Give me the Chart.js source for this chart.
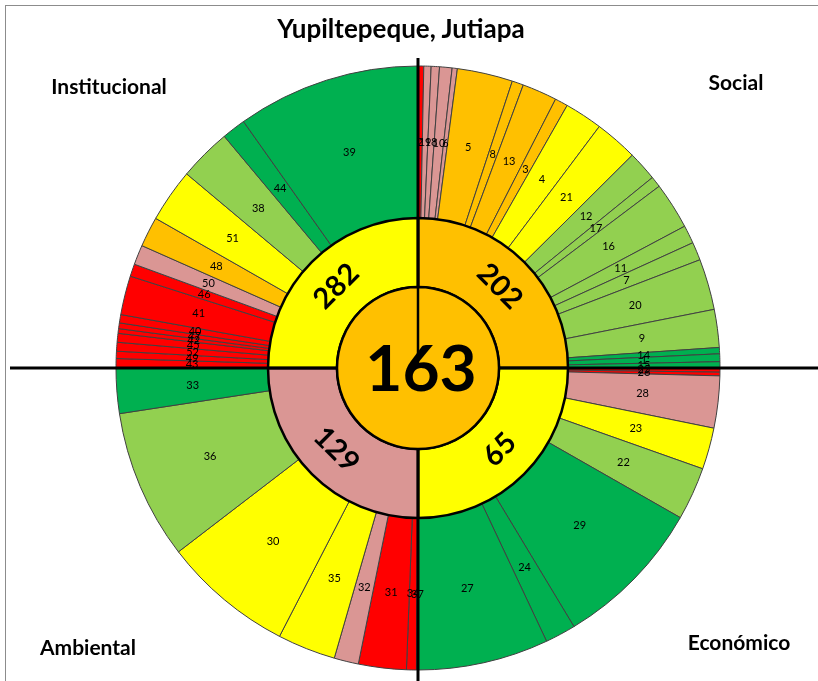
<!DOCTYPE html>
<html>
<head>
<meta charset="utf-8">
<script src="https://cdn.jsdelivr.net/npm/chart.js@4.4.0/dist/chart.umd.min.js"></script>
<style>
html,body{margin:0;padding:0;background:#fff;}
#wrap{position:relative;width:818px;height:681px;overflow:hidden;background:#fff;}
#frame{position:absolute;left:5px;top:5px;width:900px;height:800px;border-left:1px solid #8c8c8c;border-top:1px solid #8c8c8c;}
#c{position:absolute;left:0;top:0;}
.lbl{position:absolute;font-family:Lato,"Open Sans",sans-serif;font-weight:bold;color:#000;white-space:nowrap;transform:translate(-50%,-50%);}
</style>
</head>
<body>
<div id="wrap">
  <div id="frame"></div>
  <canvas id="c" width="818" height="681"></canvas>
  <div class="lbl" style="left:401px;top:28px;font-size:26px;">Yupiltepeque, Jutiapa</div>
  <div class="lbl" style="left:109px;top:85px;font-size:21px;">Institucional</div>
  <div class="lbl" style="left:736px;top:81px;font-size:21px;">Social</div>
  <div class="lbl" style="left:88px;top:646px;font-size:21px;">Ambiental</div>
  <div class="lbl" style="left:739px;top:641px;font-size:21px;">Económico</div>
</div>
<script>
// ---- DATA ----
// Outer ring: item numbers, angular share (degrees) and status class, clockwise from top
const itemLabels = ['2','19','18','10','6','5','8','13','3','4','21','12','17','16','11','7','20','9','14','1','15',
  '25','26','28','23','22','29','24','27',
  '37','34','31','32','35','30','36','33',
  '43','49','52','45','42','47','40','41','46','50','48','51','38','44','39'];
const itemShares = [1.1,1.4,1.6,2.4,1.0,10.7,2.2,6.7,2.5,7.3,8.3,5.7,2.1,9.0,3.5,3.5,9.8,7.3,1.2,1.5,1.2,
  0.8,0.7,10.0,8.0,10.2,29.2,5.9,25.2,
  0.3,1.9,9.2,4.7,11.2,25.2,28.8,8.7,
  1.8,1.4,1.7,1.7,0.9,1.1,1.6,7.5,2.4,3.8,5.8,10.3,10.1,4.6,35.3];
const itemStatus = ['R','P','P','P','P','O','O','O','O','Y','Y','LG','LG','LG','LG','LG','LG','LG','DG','DG','DG',
  'R','R','P','Y','LG','DG','DG','DG',
  'R','R','R','P','Y','Y','LG','DG',
  'R','R','R','R','R','R','R','R','R','P','O','Y','LG','DG','DG'];
// Middle ring: dimensions
const dimNames = ['Social','Económico','Ambiental','Institucional'];
const dimValues = [202, 65, 129, 282];
const dimShares = [90, 90, 90, 90];
const dimStatus = ['O','Y','P','Y'];
// Centre
const totalValue = [163];
const totalStatus = ['O'];

// ---- STYLE ----
const palette = {R:'#FF0000', P:'#DA9694', O:'#FFC000', Y:'#FFFF00', LG:'#92D050', DG:'#00B050'};
const FONT = 'Lato, "Open Sans", sans-serif';

const crossPlugin = {
  id: 'cross',
  beforeDatasetDraw(chart, args) {
    if (args.index !== 2) return;
    const arc = chart.getDatasetMeta(2).data[0];
    const cx = arc.x, cy = arc.y;
    const ctx = chart.ctx;
    ctx.save();
    ctx.strokeStyle = '#000';
    ctx.lineWidth = 3;
    ctx.beginPath();
    ctx.moveTo(10, cy); ctx.lineTo(818, cy);
    ctx.moveTo(cx, 58); ctx.lineTo(cx, 681);
    ctx.stroke();
    ctx.restore();
  }
};

const labelPlugin = {
  id: 'labels',
  afterDatasetsDraw(chart) {
    const ctx = chart.ctx;
    ctx.save();
    ctx.fillStyle = '#000';
    ctx.textAlign = 'center';
    ctx.textBaseline = 'middle';
    // outer item labels
    ctx.font = '11px ' + FONT;
    chart.getDatasetMeta(0).data.forEach((arc, i) => {
      const p = arc.getCenterPoint();
      ctx.fillText(itemLabels[i], p.x, p.y);
    });
    // middle ring values, rotated along the ring
    ctx.font = 'bold 29px ' + FONT;
    chart.getDatasetMeta(1).data.forEach((arc, i) => {
      const p = arc.getCenterPoint();
      let rot = (arc.startAngle + arc.endAngle) / 2 + Math.PI / 2;
      while (rot > Math.PI / 2) rot -= Math.PI;
      while (rot <= -Math.PI / 2) rot += Math.PI;
      ctx.save();
      ctx.translate(p.x, p.y);
      ctx.rotate(rot);
      ctx.fillText(String(dimValues[i]), 0, 0);
      ctx.restore();
    });
    // centre value
    const c = chart.getDatasetMeta(2).data[0];
    ctx.font = 'bold 64px ' + FONT;
    ctx.fillText(String(totalValue[0]), c.x + 3, c.y + 2);
    ctx.restore();
  }
};

new Chart(document.getElementById('c'), {
  type: 'doughnut',
  data: {
    labels: itemLabels,
    datasets: [
      {
        label: 'Items',
        data: itemShares,
        backgroundColor: itemStatus.map(s => palette[s]),
        borderColor: '#404040',
        borderWidth: 1,
        weight: 152,
        order: 2
      },
      {
        label: 'Dimensiones',
        data: dimShares,
        backgroundColor: dimStatus.map(s => palette[s]),
        borderColor: '#000',
        borderWidth: 2.5,
        weight: 69,
        order: 1
      },
      {
        label: 'Total',
        data: [360],
        backgroundColor: totalStatus.map(s => palette[s]),
        borderColor: '#000',
        borderWidth: 2.5,
        weight: 81,
        order: 0
      }
    ]
  },
  options: {
    responsive: false,
    devicePixelRatio: 1,
    animation: false,
    events: [],
    cutout: 0,
    radius: 302,
    layout: { padding: { left: 18, right: 0, top: 55, bottom: 0 } },
    plugins: { legend: { display: false }, tooltip: { enabled: false } }
  },
  plugins: [crossPlugin, labelPlugin]
});
</script>
</body>
</html>
